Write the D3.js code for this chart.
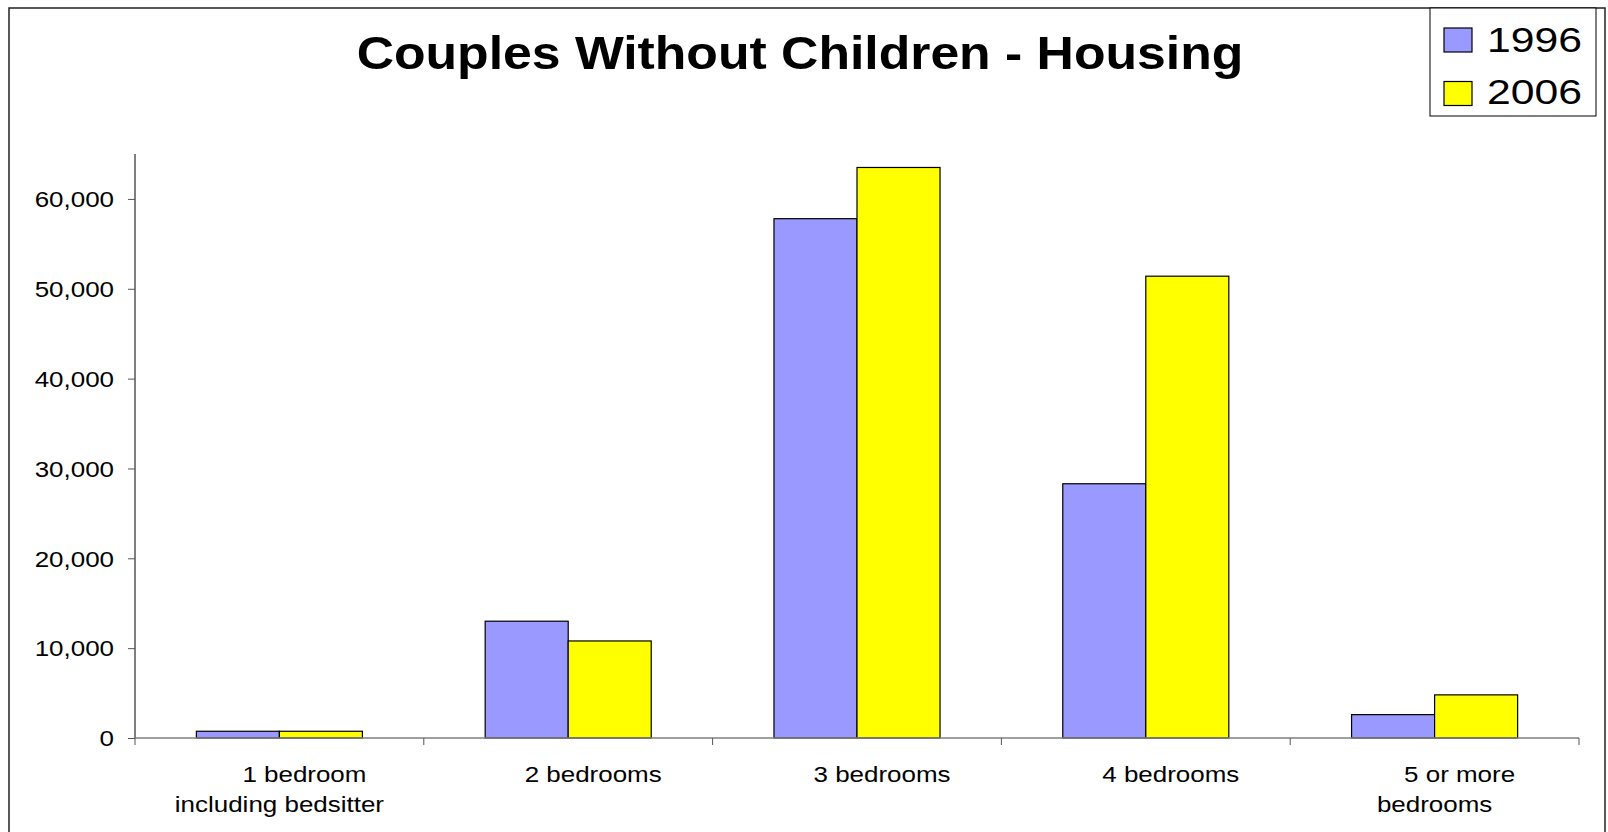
<!DOCTYPE html>
<html>
<head>
<meta charset="utf-8">
<script src="https://cdn.jsdelivr.net/npm/d3@7"></script>
<style>
  html, body { margin: 0; padding: 0; background: #fff; }
  svg { display: block; }
  text { font-family: "Liberation Sans", Arial, sans-serif; fill: #000; }
</style>
</head>
<body>
<svg id="chart" width="1608" height="832"></svg>
<script>
const categories = ["1 bedroom|including bedsitter", "2 bedrooms", "3 bedrooms", "4 bedrooms", "5 or more|bedrooms"];
const seriesNames = ["1996", "2006"];
const values1996 = [750, 13000, 57800, 28300, 2600];
const values2006 = [750, 10800, 63500, 51400, 4800];
const yTicks = [0, 10000, 20000, 30000, 40000, 50000, 60000];
const colors = ["#9999FF", "#FFFF00"];
const title = "Couples Without Children - Housing";

const svg = d3.select("#chart");
const W = 1608, H = 832;
const plot = { left: 135, right: 1579, top: 154, bottom: 738 };
const sx = 1.18; // horizontal stretch of small text

// outer border
svg.append("rect").attr("x", 9).attr("y", 8).attr("width", 1596).attr("height", 840)
  .attr("fill", "#fff").attr("stroke", "#222").attr("stroke-width", 1.5);

const x = d3.scaleBand().domain(categories).range([plot.left, plot.right])
  .paddingInner(0.425).paddingOuter(0.2125);
const xs = d3.scaleBand().domain(seriesNames).range([0, x.bandwidth()]);
const y = d3.scaleLinear().domain([0, 65000]).range([plot.bottom, plot.top]);

const data = categories.map((c, i) => ({ cat: c, vals: [values1996[i], values2006[i]] }));

// bars
const groups = svg.append("g").selectAll("g").data(data).join("g")
  .attr("transform", d => `translate(${x(d.cat)},0)`);
groups.selectAll("rect").data(d => d.vals.map((v, j) => ({ v, s: seriesNames[j], j })))
  .join("rect")
  .attr("x", d => xs(d.s))
  .attr("y", d => y(d.v))
  .attr("width", xs.bandwidth())
  .attr("height", d => y(0) - y(d.v))
  .attr("fill", d => colors[d.j])
  .attr("stroke", "#000").attr("stroke-width", 1.2);

// y axis
const yAxis = svg.append("g").attr("transform", `translate(${plot.left},0)`)
  .call(d3.axisLeft(y).tickValues(yTicks).tickSize(7).tickSizeOuter(0).tickFormat(d3.format(",")));
yAxis.select(".domain").attr("stroke", "#000").attr("stroke-width", 1)
  .attr("d", `M0,${plot.top}V${plot.bottom}`);
yAxis.selectAll(".tick line").attr("stroke", "#555");
yAxis.selectAll(".tick text")
  .attr("font-size", 22).attr("font-family", "Liberation Sans, Arial, sans-serif")
  .attr("x", -(plot.left - 114) / sx).attr("dy", "0.35em")
  .attr("transform", `scale(${sx},1)`);

// x axis line
svg.append("line").attr("x1", plot.left).attr("x2", plot.right)
  .attr("y1", y(0)).attr("y2", y(0)).attr("stroke", "#808080").attr("stroke-width", 1.5);
// category boundary ticks
const boundaries = d3.range(categories.length + 1).map(i => plot.left + i * x.step());
svg.append("g").selectAll("line").data(boundaries).join("line")
  .attr("x1", d => d).attr("x2", d => d)
  .attr("y1", y(0)).attr("y2", y(0) + 7)
  .attr("stroke", "#555").attr("stroke-width", 1);

// x labels
const lab = svg.append("g").selectAll("g").data(categories).join("g")
  .attr("transform", c => `translate(${x(c) + x.bandwidth() / 2},0)`);
lab.each(function (c) {
  const lines = c.split("|");
  const g = d3.select(this);
  lines.forEach((ln, i) => {
    g.append("text")
      .attr("text-anchor", "middle")
      .attr("font-size", 22)
      .attr("transform", `translate(${i === 0 ? 25 : 0},${782 + i * 30}) scale(${sx},1)`)
      .text(ln);
  });
});

// title
svg.append("text")
  .attr("text-anchor", "middle")
  .attr("font-size", 47).attr("font-weight", "bold")
  .attr("transform", `translate(800,69) scale(1.1,1)`)
  .text(title);

// legend
const lg = svg.append("g");
lg.append("rect").attr("x", 1430).attr("y", 8).attr("width", 166).attr("height", 108)
  .attr("fill", "#fff").attr("stroke", "#000").attr("stroke-width", 1);
seriesNames.forEach((s, i) => {
  lg.append("rect").attr("x", 1444).attr("y", 28 + i * 53.5).attr("width", 28).attr("height", 24)
    .attr("fill", colors[i]).attr("stroke", "#000").attr("stroke-width", 1.2);
  lg.append("text").attr("font-size", 35)
    .attr("transform", `translate(1487,${52 + i * 52}) scale(1.22,1)`)
    .text(s);
});
</script>
</body>
</html>
